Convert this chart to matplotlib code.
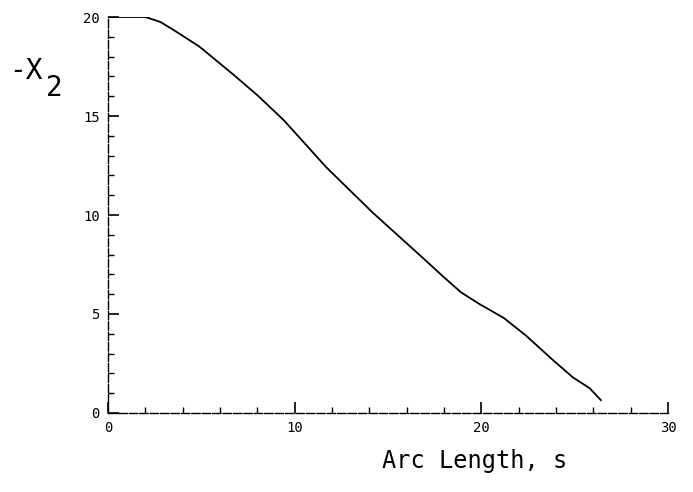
import matplotlib
matplotlib.use("Agg")
import matplotlib.pyplot as plt
from matplotlib.ticker import MultipleLocator

# arc length s and -X2
arc_length = [0, 2.0, 2.8, 3.5, 4.9, 6.7, 8.0, 9.4, 11.7, 14.2, 16.9, 18.0,
              18.9, 19.9, 21.2, 22.4, 23.8, 24.9, 25.8, 26.4]
neg_x2 = [20, 20, 19.75, 19.35, 18.5, 17.1, 16.05, 14.8, 12.4, 10.1, 7.8,
          6.85, 6.1, 5.5, 4.8, 3.9, 2.7, 1.8, 1.25, 0.65]

x_ticks = [0, 10, 20, 30]
y_ticks = [0, 5, 10, 15, 20]

plt.rcParams["font.family"] = "DejaVu Sans Mono"

fig = plt.figure(figsize=(6.93, 4.92), dpi=100)
ax = fig.add_axes([0.156, 0.1606, 0.808, 0.8048])

ax.plot(arc_length, neg_x2, color="black", linewidth=1.3)

ax.set_xlim(0, 30)
ax.set_ylim(0, 20)
ax.set_xticks(x_ticks)
ax.set_yticks(y_ticks)
ax.xaxis.set_minor_locator(MultipleLocator(2))
ax.yaxis.set_minor_locator(MultipleLocator(1))
ax.tick_params(which="major", direction="in", length=8, width=1.2,
               labelsize=10, pad=6)
ax.tick_params(which="minor", direction="in", length=4, width=1.0)

for side in ["top", "right"]:
    ax.spines[side].set_visible(False)
for side in ["left", "bottom"]:
    ax.spines[side].set_linewidth(1.0)
    ax.spines[side].set_linestyle((0, (6, 1.5)))

# y label: "-X" with a lowered "2"
fig.text(0.013, 0.855, "-X", fontsize=20, ha="left", va="center")
fig.text(0.066, 0.822, "2", fontsize=20, ha="left", va="center")
fig.text(0.685, 0.062, "Arc Length, s", fontsize=17, ha="center", va="center")

fig.savefig("out.png", dpi=100)
